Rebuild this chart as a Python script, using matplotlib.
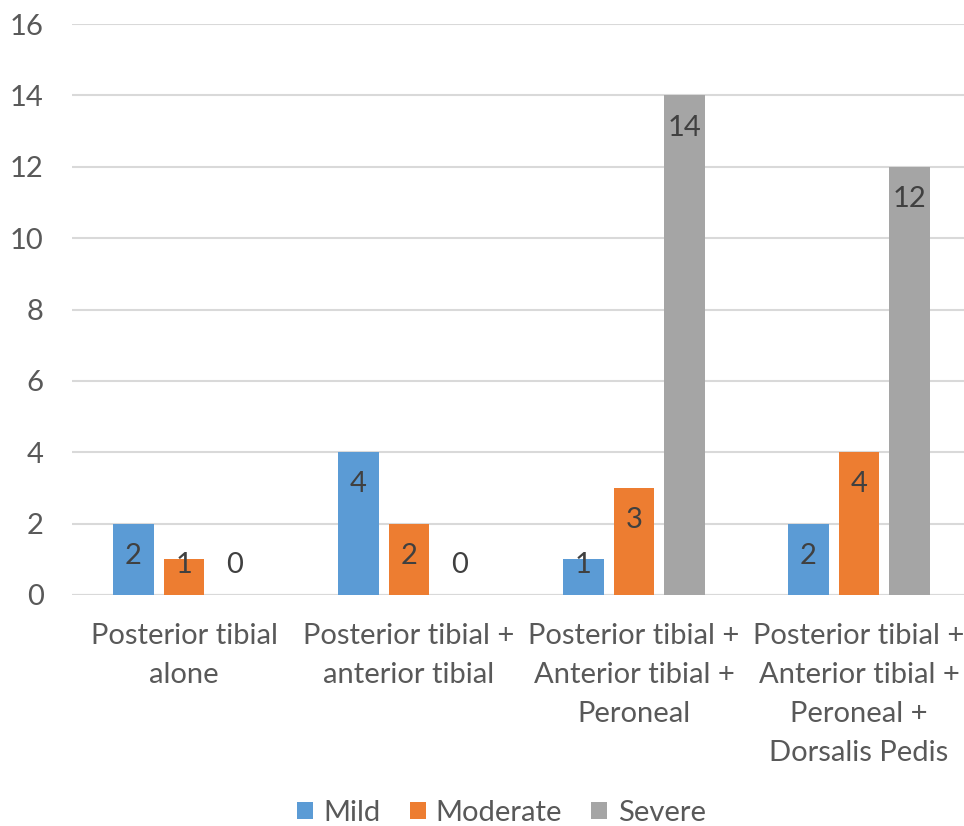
import matplotlib
matplotlib.use("Agg")
import matplotlib.pyplot as plt
import numpy as np

categories = ["Posterior tibial\nalone", "Posterior tibial +\nanterior tibial",
              "Posterior tibial +\nAnterior tibial +\nPeroneal",
              "Posterior tibial +\nAnterior tibial +\nPeroneal +\nDorsalis Pedis"]
series_names = ["Mild", "Moderate", "Severe"]
mild = [2, 4, 1, 2]
moderate = [1, 2, 3, 4]
severe = [0, 0, 14, 12]
colors = ["#5B9BD5", "#ED7D31", "#A5A5A5"]

plt.rcParams['font.family'] = ['Lato', 'DejaVu Sans']
txt = "#595959"
fs = 21

fig = plt.figure(figsize=(9.64, 8.26), dpi=100)
ax = fig.add_axes([71.5 / 964, 0.2797, 900 / 964, 0.6912])

x = np.arange(len(categories))
width = 0.178
step = 0.2244
for i, (name, vals) in enumerate(zip(series_names, [mild, moderate, severe])):
    pos = x + (i - 1) * step
    ax.bar(pos, vals, width=width, color=colors[i], label=name, zorder=3)
    for p, v in zip(pos, vals):
        yl = max(v - 0.9, 0.84)
        ax.text(p, yl, str(v), ha="center", va="center", fontsize=fs, color="#404040", zorder=4)

ax.set_xlim(-0.5, 3.5)
ax.set_ylim(0, 16)
ax.set_yticks(range(0, 17, 2))
ax.grid(axis="y", color="#D9D9D9", linewidth=1.5, zorder=0)
ax.set_axisbelow(True)
for s in ax.spines.values():
    s.set_visible(False)
ax.axhline(0, color="#D9D9D9", linewidth=1.5, zorder=2)
ax.tick_params(axis="both", length=0, labelsize=fs, labelcolor=txt)
ax.tick_params(axis="y", pad=20)
ax.tick_params(axis="x", pad=20)
ax.set_xticks(x)
ax.set_xticklabels(categories, linespacing=1.62)

leg = fig.legend(loc="center", bbox_to_anchor=(0.52, 1 - 813 / 826), ncol=3, frameon=False,
                 fontsize=fs, handlelength=0.55, handleheight=0.55, handletextpad=0.35,
                 columnspacing=1.0, borderpad=0)
for t in leg.get_texts():
    t.set_color(txt)

fig.savefig("out.png", dpi=100)
